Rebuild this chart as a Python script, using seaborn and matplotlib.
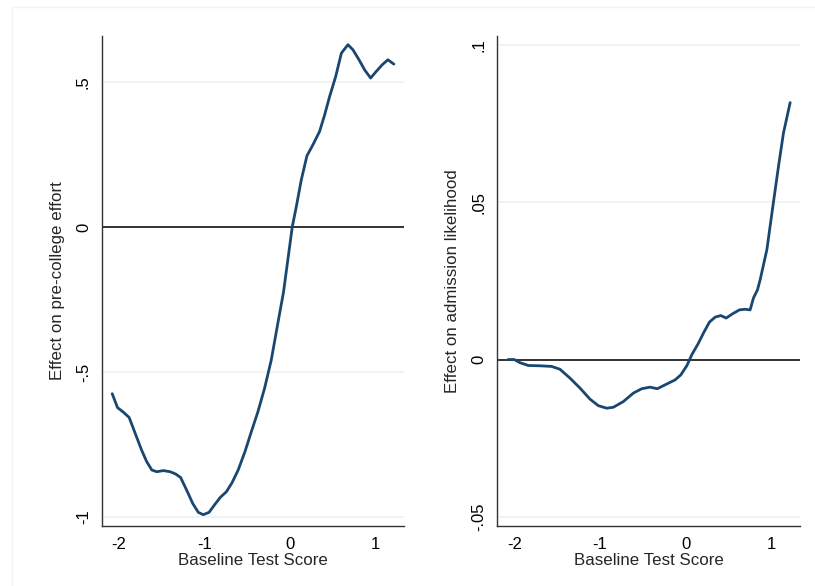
import pandas as pd
import seaborn as sns
import matplotlib.pyplot as plt
from matplotlib.lines import Line2D

# Courbe de gauche : effet sur l'effort avant l'université
effort_x = [-2.078, -2.016, -1.946, -1.88, -1.81, -1.735, -1.675, -1.615, -1.557, -1.48,
            -1.40, -1.335, -1.278, -1.208, -1.137, -1.071, -1.013, -0.946, -0.876, -0.813,
            -0.743, -0.677, -0.605, -0.526, -0.451, -0.374, -0.296, -0.218, -0.141, -0.075,
            -0.035, 0.028, 0.075, 0.133, 0.199, 0.269, 0.347, 0.406, 0.464, 0.535,
            0.602, 0.679, 0.738, 0.808, 0.874, 0.944, 1.01, 1.08, 1.146, 1.216]
effort_y = [-0.575, -0.623, -0.639, -0.657, -0.711, -0.769, -0.809, -0.838, -0.844, -0.840,
            -0.844, -0.852, -0.864, -0.907, -0.953, -0.984, -0.992, -0.984, -0.956, -0.932,
            -0.913, -0.882, -0.838, -0.775, -0.706, -0.637, -0.556, -0.459, -0.332, -0.225,
            -0.137, 0.001, 0.070, 0.162, 0.245, 0.283, 0.329, 0.386, 0.449, 0.518,
            0.599, 0.628, 0.610, 0.576, 0.541, 0.513, 0.536, 0.559, 0.576, 0.561]

# Courbe de droite : effet sur la probabilité d'admission
admit_x = [-2.07, -2.0, -1.933, -1.836, -1.70, -1.563, -1.466, -1.35, -1.232, -1.116,
           -1.018, -0.92, -0.843, -0.727, -0.61, -0.512, -0.415, -0.33, -0.22, -0.123,
           -0.056, 0.014, 0.072, 0.15, 0.208, 0.278, 0.345, 0.411, 0.473, 0.551,
           0.628, 0.694, 0.753, 0.792, 0.839, 0.87, 0.948, 1.018, 1.084, 1.142, 1.22]
admit_y = [0.0, 0.0, -0.001, -0.0019, -0.002, -0.0022, -0.0031, -0.0059, -0.0091, -0.0126,
           -0.0147, -0.0155, -0.0152, -0.0134, -0.0107, -0.0093, -0.0088, -0.0093, -0.0078, -0.0065,
           -0.0049, -0.002, 0.0015, 0.0052, 0.0084, 0.0119, 0.0135, 0.014, 0.0132, 0.0146,
           0.0158, 0.016, 0.0158, 0.0196, 0.0222, 0.0254, 0.0349, 0.0487, 0.0615, 0.0721, 0.0818]

x_ticks = [-2, -1, 0, 1]
x_ticklabels = ["-2", "-1", "0", "1"]
effort_ticks = [-1, -0.5, 0, 0.5]
effort_ticklabels = ["-1", "-.5", "0", ".5"]
admit_ticks = [-0.05, 0, 0.05, 0.1]
admit_ticklabels = ["-.05", "0", ".05", ".1"]

LINE = "#1a476f"
GRID = "#eaf2f3"


def style_axis(ax, yticks, yticklabels, ylabel, ylim):
    ax.set_xlim(-2.197, 1.335)
    ax.set_ylim(*ylim)
    for y in yticks:
        if y != 0:
            ax.axhline(y, color=GRID, lw=1.2, zorder=0)
    ax.axhline(0, color="#222222", lw=1.3, zorder=1)
    ax.set_xticks(x_ticks)
    ax.set_xticklabels(x_ticklabels)
    ax.set_yticks(yticks)
    ax.set_yticklabels(yticklabels, rotation=90, va="center")
    ax.tick_params(axis="both", length=5, width=1, color="#333333",
                   labelsize=12, labelcolor="black", pad=3)
    ax.set_xlabel("Baseline Test Score", fontsize=12.2, labelpad=1)
    ax.set_ylabel(ylabel, fontsize=12.2, labelpad=8)
    for side in ["top", "right"]:
        ax.spines[side].set_visible(False)
    for side in ["left", "bottom"]:
        ax.spines[side].set_color("#333333")
        ax.spines[side].set_linewidth(1.0)
    ax.grid(False)


def main():
    sns.set_style("white")
    plt.rcParams["font.family"] = ["Liberation Sans", "DejaVu Sans"]

    fig = plt.figure(figsize=(8.15, 5.86), dpi=100)
    ax1 = fig.add_axes([0.1252, 0.1024, 0.3706, 0.8362])
    ax2 = fig.add_axes([0.6102, 0.1024, 0.3714, 0.8362])

    df1 = pd.DataFrame({"x": effort_x, "y": effort_y})
    df2 = pd.DataFrame({"x": admit_x, "y": admit_y})

    sns.lineplot(data=df1, x="x", y="y", ax=ax1, color=LINE, lw=2, sort=False, zorder=3)
    sns.lineplot(data=df2, x="x", y="y", ax=ax2, color=LINE, lw=2, sort=False, zorder=3)

    style_axis(ax1, effort_ticks, effort_ticklabels, "Effect on pre-college effort", (-1.031, 0.658))
    style_axis(ax2, admit_ticks, admit_ticklabels, "Effect on admission likelihood", (-0.053, 0.103))

    # bordure très pâle de la zone graphique
    fig.add_artist(Line2D([12 / 815, 1.0], [1 - 7 / 586, 1 - 7 / 586],
                          transform=fig.transFigure, color="#f3f3f3", lw=1))
    fig.add_artist(Line2D([12 / 815, 12 / 815], [0, 1 - 7 / 586],
                          transform=fig.transFigure, color="#f3f3f3", lw=1))

    fig.savefig("out.png", dpi=100, facecolor="white")


if __name__ == "__main__":
    main()
